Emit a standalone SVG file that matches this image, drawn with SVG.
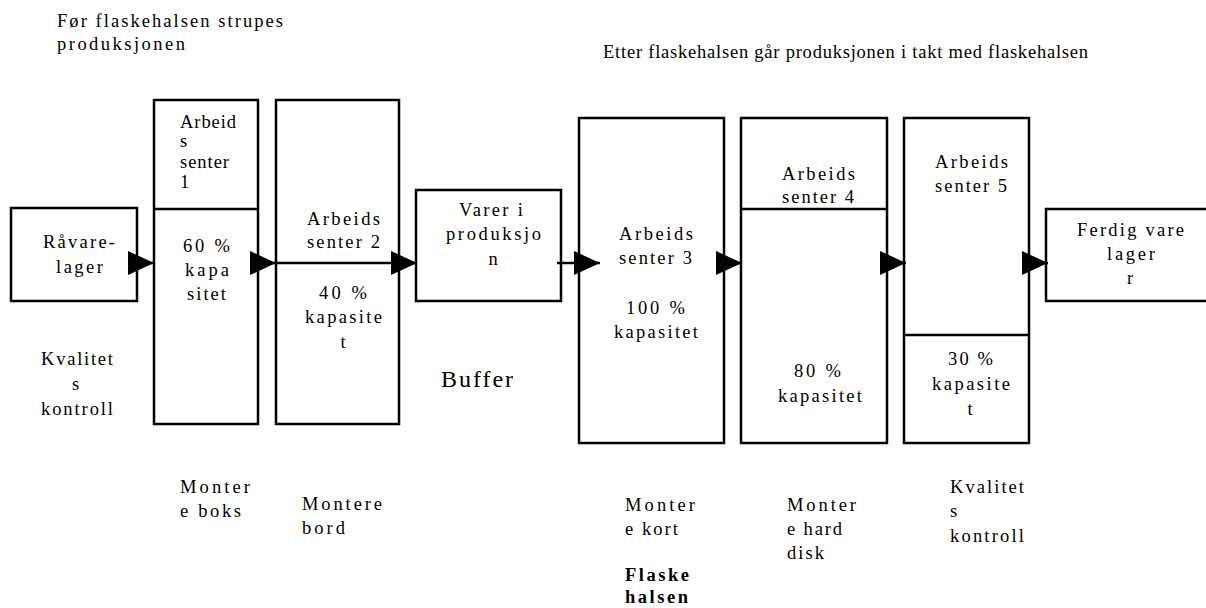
<svg xmlns="http://www.w3.org/2000/svg" width="1206" height="608" viewBox="0 0 1206 608">
<style>
  .box{fill:#fff;stroke:#000;stroke-width:2.5}
  .div{stroke:#000;stroke-width:2.5;fill:none}
  .con{stroke:#000;stroke-width:2.5;fill:none;marker-end:url(#ah)}
  text{font-family:'Liberation Serif','DejaVu Serif',serif;font-size:18.5px;fill:#000}
  .c{text-anchor:middle}
  .b{font-weight:bold}
  .big{font-size:24px}
</style>
<defs>
  <marker id="ah" viewBox="0 0 26 24" refX="26" refY="12" markerWidth="26" markerHeight="24" markerUnits="userSpaceOnUse" orient="auto">
    <path d="M0,0 L26,12 L0,24 Z" fill="#000"/>
  </marker>
</defs>
<rect width="1206" height="608" fill="#fff"/>

<g id="titles">
  <text x="57" y="27" textLength="226" lengthAdjust="spacing">Før flaskehalsen strupes</text>
  <text x="57" y="50" textLength="128" lengthAdjust="spacing">produksjonen</text>
  <text x="603" y="58" textLength="485" lengthAdjust="spacing">Etter flaskehalsen går produksjonen i takt med flaskehalsen</text>
</g>

<g id="ravarelager">
  <rect class="box" x="11" y="208" width="126" height="93"/>
  <text x="43" y="248" textLength="72" lengthAdjust="spacing">Råvare-</text>
  <text x="56" y="273" textLength="47" lengthAdjust="spacing">lager</text>
</g>

<g id="kvalitet1">
  <text x="41" y="365" textLength="72" lengthAdjust="spacing">Kvalitet</text>
  <text x="72" y="390">s</text>
  <text x="41" y="415" textLength="72" lengthAdjust="spacing">kontroll</text>
</g>

<g id="ws1">
  <rect class="box" x="154" y="100" width="104" height="324"/>
  <line class="div" x1="154" y1="209" x2="258" y2="209"/>
  <text x="180" y="128" textLength="56" lengthAdjust="spacing">Arbeid</text>
  <text x="180" y="147">s</text>
  <text x="180" y="168" textLength="49" lengthAdjust="spacing">senter</text>
  <text x="180" y="188">1</text>
  <text x="183" y="252" textLength="47" lengthAdjust="spacing">60 %</text>
  <text x="185" y="276" textLength="44" lengthAdjust="spacing">kapa</text>
  <text x="187" y="300" textLength="39" lengthAdjust="spacing">sitet</text>
</g>

<g id="ws2">
  <rect class="box" x="276" y="100" width="123" height="324"/>
  <text x="307" y="225" textLength="73" lengthAdjust="spacing">Arbeids</text>
  <text x="307" y="248" textLength="73" lengthAdjust="spacing">senter 2</text>
  <text x="319" y="299" textLength="48" lengthAdjust="spacing">40 %</text>
  <text x="305" y="323" textLength="77" lengthAdjust="spacing">kapasite</text>
  <text class="c" x="343" y="348">t</text>
</g>

<g id="varer">
  <rect class="box" x="416" y="190" width="145" height="111"/>
  <text x="459" y="216" textLength="64" lengthAdjust="spacing">Varer i</text>
  <text x="446" y="240" textLength="95" lengthAdjust="spacing">produksjo</text>
  <text class="c" x="493" y="265">n</text>
</g>

<g id="buffer">
  <text class="big" x="441" y="387" textLength="72" lengthAdjust="spacing">Buffer</text>
</g>

<g id="ws3">
  <rect class="box" x="579" y="118" width="145" height="325"/>
  <text x="619" y="240" textLength="74" lengthAdjust="spacing">Arbeids</text>
  <text x="619" y="264" textLength="73" lengthAdjust="spacing">senter 3</text>
  <text x="626" y="314" textLength="59" lengthAdjust="spacing">100 %</text>
  <text x="614" y="338" textLength="84" lengthAdjust="spacing">kapasitet</text>
</g>

<g id="ws4">
  <rect class="box" x="741" y="118" width="146" height="325"/>
  <line class="div" x1="741" y1="209" x2="887" y2="209"/>
  <text x="782" y="180" textLength="73" lengthAdjust="spacing">Arbeids</text>
  <text x="782" y="203" textLength="72" lengthAdjust="spacing">senter 4</text>
  <text x="794" y="377" textLength="47" lengthAdjust="spacing">80 %</text>
  <text x="778" y="402" textLength="84" lengthAdjust="spacing">kapasitet</text>
</g>

<g id="ws5">
  <rect class="box" x="904" y="118" width="125" height="325"/>
  <line class="div" x1="904" y1="335" x2="1029" y2="335"/>
  <text x="935" y="168" textLength="73" lengthAdjust="spacing">Arbeids</text>
  <text x="935" y="192" textLength="72" lengthAdjust="spacing">senter 5</text>
  <text x="948" y="365" textLength="45" lengthAdjust="spacing">30 %</text>
  <text x="932" y="390" textLength="78" lengthAdjust="spacing">kapasite</text>
  <text class="c" x="970" y="415">t</text>
</g>

<g id="ferdig">
  <rect class="box" x="1046" y="209" width="180" height="92"/>
  <text x="1077" y="236" textLength="107" lengthAdjust="spacing">Ferdig vare</text>
  <text x="1107" y="260" textLength="48" lengthAdjust="spacing">lager</text>
  <text class="c" x="1130" y="284">r</text>
</g>

<g id="labels">
  <text x="180" y="493" textLength="70" lengthAdjust="spacing">Monter</text>
  <text x="180" y="517" textLength="61" lengthAdjust="spacing">e boks</text>
  <text x="302" y="510" textLength="80" lengthAdjust="spacing">Montere</text>
  <text x="302" y="534" textLength="43" lengthAdjust="spacing">bord</text>
  <text x="625" y="511" textLength="70" lengthAdjust="spacing">Monter</text>
  <text x="625" y="535" textLength="53" lengthAdjust="spacing">e kort</text>
  <text class="b" x="625" y="581" textLength="64" lengthAdjust="spacing">Flaske</text>
  <text class="b" x="625" y="603" textLength="63" lengthAdjust="spacing">halsen</text>
  <text x="787" y="511" textLength="69" lengthAdjust="spacing">Monter</text>
  <text x="787" y="535" textLength="55" lengthAdjust="spacing">e hard</text>
  <text x="787" y="559" textLength="37" lengthAdjust="spacing">disk</text>
  <text x="950" y="493" textLength="74" lengthAdjust="spacing">Kvalitet</text>
  <text x="950" y="517">s</text>
  <text x="950" y="542" textLength="74" lengthAdjust="spacing">kontroll</text>
</g>

<g id="connectors">
  <path class="con" d="M137,263 L154,263"/>
  <path class="con" d="M258,263 L276,263"/>
  <path class="con" d="M276,263 L417,263"/>
  <path class="con" d="M557,263 L600,263"/>
  <path class="con" d="M724,263 L742,263"/>
  <path class="con" d="M887,263 L906,263"/>
  <path class="con" d="M1029,263 L1048,263"/>
</g>
</svg>
